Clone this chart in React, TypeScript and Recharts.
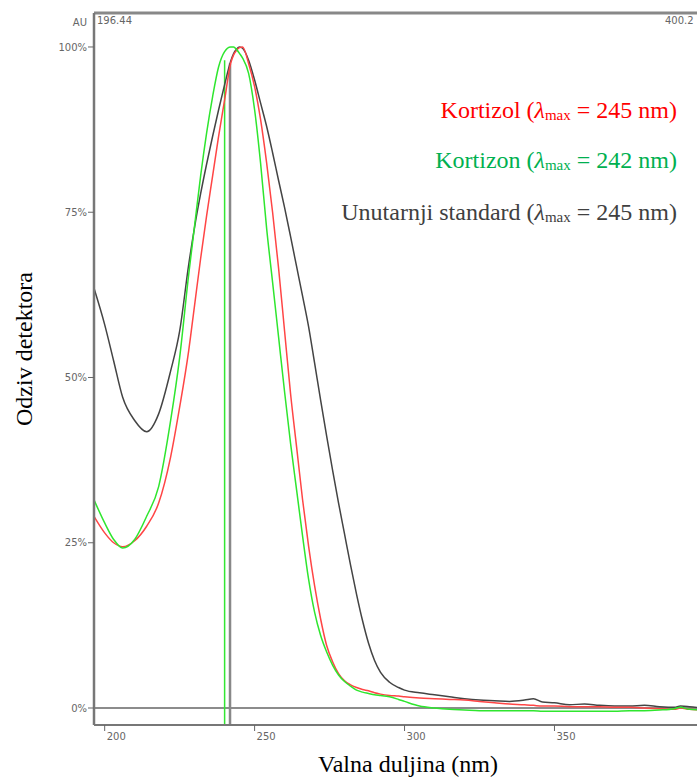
import { LineChart, Line, XAxis, YAxis, ReferenceLine } from "recharts";

// wavelength grid (nm) shared by the three spectra
const wavelengths = [
  196.44, 200, 203, 206, 210, 214, 218, 222, 225, 228, 230, 232, 234, 236, 238, 240, 242, 243, 244, 245,
  246, 248, 250, 252, 254, 256, 258, 260, 262, 264, 266, 268, 270, 272, 274, 276, 278, 280, 282, 284,
  286, 288, 290, 292, 295, 298, 300, 305, 310, 315, 320, 325, 330, 335, 340, 343, 346, 350, 355, 360,
  365, 370, 375, 380, 385, 390, 392, 395, 400.2,
];

// detector response (% of max)
const kortizol = [
  29, 26.5, 25, 24.4, 25.3, 27.5, 31, 38, 45.5, 54, 61, 68, 74.5, 80.5, 86.5, 92, 97.5, 98.8, 99.5, 99.9,
  100, 97.5, 94, 89, 82.5, 75, 66.5, 57, 47.5, 39.5, 31.5, 24.5, 18.5, 13.5, 9.5, 7, 5.2, 4.1, 3.5, 3.1,
  2.8, 2.6, 2.3, 2.1, 1.9, 1.8, 1.7, 1.5, 1.4, 1.3, 1.2, 1.0, 0.8, 0.6, 0.5, 0.4, 0.3, 0.3, 0.2, 0.2,
  0.2, 0.1, 0.1, 0.0, -0.1, -0.2, 0.0, -0.2, -0.3,
];
const kortizon = [
  31.5, 28, 25.5, 24.2, 25.5, 29, 33.5, 43.5, 53, 65.5, 73, 80.5, 87, 92.5, 97, 99.3, 100, 100, 99.6, 99,
  98.3, 96, 90.5, 82.4, 72.6, 64.4, 56.1, 47.8, 40, 33, 26, 19.5, 14.5, 11, 8.5, 6.5, 5, 4, 3.3, 2.7,
  2.4, 2.2, 2.0, 1.9, 1.7, 1.3, 1.0, 0.3, 0, -0.2, -0.3, -0.4, -0.4, -0.4, -0.4, -0.4, -0.5, -0.5, -0.5, -0.5,
  -0.5, -0.5, -0.4, -0.4, -0.3, -0.1, 0.1, -0.2, -0.3,
];
const standard = [
  63.5, 58, 52.5, 47, 43.5, 41.8, 44.5, 51, 57, 67, 72.8, 77.8, 82.3, 86.5, 90.5, 94.3, 97.8, 99, 99.7, 100,
  99.8, 98, 95, 91.5, 88, 84, 79.8, 75.7, 71.3, 66.8, 62.3, 57.7, 52.2, 46.6, 41.2, 36, 31, 26.3, 21.6, 17.2,
  13.2, 9.8, 7.2, 5.4, 3.9, 3.1, 2.7, 2.3, 2.0, 1.7, 1.4, 1.2, 1.1, 1.0, 1.2, 1.4, 0.9, 0.8, 0.5, 0.6,
  0.4, 0.3, 0.3, 0.4, 0.2, 0.1, 0.3, 0.2, -0.1,
];

const xTicks = [200, 250, 300, 350];
const yTicks = [0, 25, 50, 75, 100];
const markerNm = [240, 241.8];
const markerTop = [98, 97.5];

const X_MIN = 196.44;
const X_MAX = 400.2;
const Y_MIN = -2.57;
const Y_MAX = 105.14;

const data = wavelengths.map((nm, i) => ({
  nm,
  kortizol: kortizol[i],
  kortizon: kortizon[i],
  standard: standard[i],
}));

const small = { fontFamily: "DejaVu Sans, sans-serif", fontSize: 10, fill: "#666" };
const serif = "'Liberation Serif', 'Times New Roman', serif";

function XTick({ x, y, payload }: any) {
  return (
    <text x={x + 2} y={y} dy="0.71em" textAnchor="start" style={small}>
      {payload.value}
    </text>
  );
}

function LegendLine({ y, name, value, color }: { y: number; name: string; value: number; color: string }) {
  return (
    <text x={677} y={y} textAnchor="end" fill={color} style={{ fontFamily: serif, fontSize: 24 }}>
      {name} (<tspan fontStyle="italic">λ</tspan>
      <tspan fontSize={15} dy={2}>max</tspan>
      <tspan dy={-2}> = {value} nm)</tspan>
    </text>
  );
}

export default function App() {
  return (
    <div style={{ position: "fixed", left: 0, top: 0, width: 697, height: 780, overflow: "hidden", background: "#fff" }}>
      <LineChart width={720} height={780} data={data} margin={{ top: 13, right: 15, bottom: 25, left: 0 }}>
        <XAxis
          dataKey="nm"
          type="number"
          domain={[X_MIN, X_MAX]}
          ticks={xTicks}
          allowDataOverflow
          height={30}
          tickSize={6}
          tick={<XTick />}
          tickLine={{ stroke: "#666" }}
          axisLine={{ stroke: "#777", strokeWidth: 2 }}
        />
        <YAxis
          type="number"
          domain={[Y_MIN, Y_MAX]}
          ticks={yTicks}
          allowDataOverflow
          width={94}
          tickSize={6}
          tickMargin={1}
          tickFormatter={(v: number) => `${v}%`}
          tick={small}
          tickLine={{ stroke: "#666" }}
          axisLine={{ stroke: "#777", strokeWidth: 2.5 }}
        />
        <ReferenceLine y={Y_MAX} stroke="#888" strokeWidth={3} />
        <ReferenceLine y={0} stroke="#666" strokeWidth={1.5} />
        <ReferenceLine
          segment={[{ x: markerNm[0], y: Y_MIN }, { x: markerNm[0], y: markerTop[0] }]}
          stroke="#33e633"
          strokeWidth={1.5}
          ifOverflow="visible"
        />
        <ReferenceLine
          segment={[{ x: markerNm[1], y: Y_MIN }, { x: markerNm[1], y: markerTop[1] }]}
          stroke="#888"
          strokeWidth={2.5}
          ifOverflow="visible"
        />
        <Line type="monotone" dataKey="standard" stroke="#444" strokeWidth={1.5} dot={false} isAnimationActive={false} />
        <Line type="monotone" dataKey="kortizol" stroke="#ff4545" strokeWidth={1.5} dot={false} isAnimationActive={false} />
        <Line type="monotone" dataKey="kortizon" stroke="#2ee62e" strokeWidth={1.5} dot={false} isAnimationActive={false} />
      </LineChart>

      <svg width={697} height={780} style={{ position: "absolute", left: 0, top: 0, pointerEvents: "none" }}>
        <text x={87} y={26} textAnchor="end" style={small}>AU</text>
        <text x={97} y={24} style={small}>196.44</text>
        <text x={665} y={24} style={small}>400.2</text>

        <LegendLine y={117.5} name="Kortizol" value={245} color="#ff0000" />
        <LegendLine y={167.5} name="Kortizon" value={242} color="#00b050" />
        <LegendLine y={219.5} name="Unutarnji standard" value={245} color="#404040" />

        <text x={408} y={772} textAnchor="middle" style={{ fontFamily: serif, fontSize: 24, fill: "#000" }}>
          Valna duljina (nm)
        </text>
        <text
          transform="translate(32, 349) rotate(-90)"
          textAnchor="middle"
          style={{ fontFamily: serif, fontSize: 24, fill: "#000" }}
        >
          Odziv detektora
        </text>
      </svg>
    </div>
  );
}
